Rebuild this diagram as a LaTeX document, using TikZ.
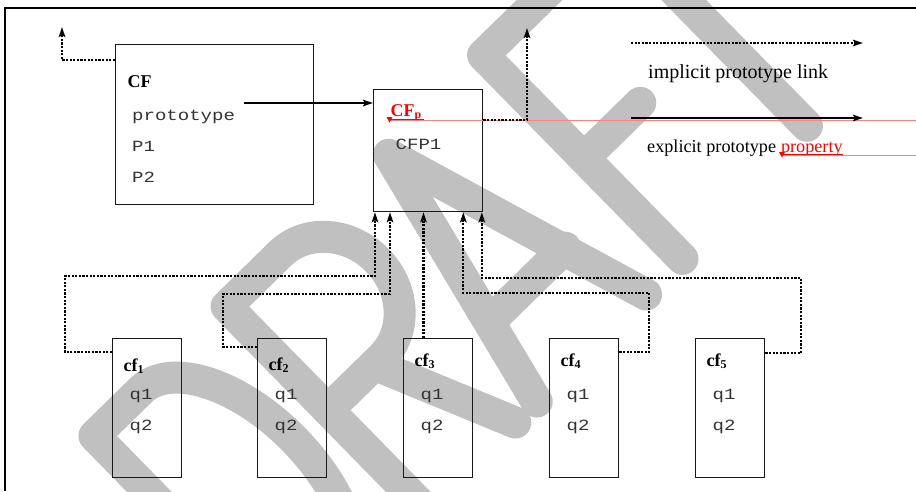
\documentclass[tikz,border=0pt]{standalone}
\usepackage{fontspec}
\setmainfont{Liberation Serif}
\setmonofont{Liberation Mono}[FakeStretch=1.22]
\usetikzlibrary{arrows.meta}
\definecolor{wmgray}{RGB}{192,192,192}
\newcommand{\lblfont}{\fontsize{18}{21}\selectfont\bfseries}
\newcommand{\subfont}{\fontsize{12}{14}\selectfont\bfseries}
\newcommand{\monofont}{\fontsize{15.6}{18}\selectfont\ttfamily}
\begin{document}
\begin{tikzpicture}[x=1pt,y=-1pt,
  box/.style={draw=black!90, line width=1.3pt, inner sep=0pt, anchor=north west},
  mono/.style={font=\monofont, text=black!80, inner sep=0pt, anchor=base west},
  lbl/.style={font=\lblfont, inner sep=0pt, anchor=base west},
  dotline/.style={line width=2.1pt, dash pattern=on 2.2pt off 1.4pt},
  solidline/.style={line width=2pt},
  arrowtip/.style={-{Stealth[length=10pt,width=6.5pt,inset=2pt]}},
  wm/.style={draw=wmgray, line width=32pt, line cap=round, line join=round},
  redmark/.style={red!50, line width=0.7pt}]
\useasboundingbox (0,0) rectangle (916,491);
% watermark
\begin{scope}
  \clip (0,0) rectangle (916,491);
  \begin{scope}[shift={(426pt,-510pt)},rotate=44.4,x=1pt,y=1pt]
    % D
    \draw[wm] (-185,0) -- (-185,285) -- (-120,285) arc[start angle=90,end angle=-90,x radius=75,y radius=142.5] -- cycle;
    % R
    \draw[wm] (0,0) -- (0,285) -- (75,285) arc[start angle=90,end angle=-90,x radius=65,y radius=72.5] -- (0,140);
    \draw[wm] (65,140) -- (125,0);
    % A
    \draw[wm] (155,0) -- (222,280) -- (308,0);
    \draw[wm] (179,90) -- (283,90);
    % F
    \draw[wm] (470,285) -- (359,285) -- (359,0);
    \draw[wm] (359,141) -- (438,141);
    % T
    \draw[wm] (541,8) -- (541,285);
    \draw[wm] (496,285) -- (646,285);
  \end{scope}
\end{scope}
% frame
\draw[line width=2.2pt] (5,491) -- (5,8) -- (916,8);
% CF box
\node[box, minimum width=198pt, minimum height=160pt] (cf) at (115,44) {};
\node[lbl] (cflbl) at (127.5,87) {\lblfont CF};
\node[mono] (proto) at (132,120) {prototype};
\node[mono] (p1) at (132,151) {P1};
\node[mono] (p2) at (132,182) {P2};
% CFp box
\node[box, minimum width=109pt, minimum height=122pt] (cfp) at (373,89) {};
\node[lbl, text=red] (cfplbl) at (390.5,116) {\lblfont CF\raisebox{-2.5pt}{\subfont p}};
\node[mono] (cfp1) at (395.5,149) {CFP1};
% red revision marks
\draw[redmark] (389,120.7) -- (916,120.7);
\draw[red, line width=0.9pt] (388,119) -- (424,119);
\fill[red] (386.5,117) -- (392.5,117) -- (389.5,122.5) -- cycle;
% cf boxes
\foreach \i/\x/\b in {1/112/371,2/257/370,3/403/366,4/549/366,5/695/366} {
  \node[box, minimum width=69pt, minimum height=139pt] (cf\i) at (\x,338) {};
  \node[lbl] (cf\i-lbl) at (\x+11.5,\b) {\lblfont cf\raisebox{-2.5pt}{\subfont\i}};
  \node[mono] (cf\i-q1) at (\x+17.5,399) {q1};
  \node[mono] (cf\i-q2) at (\x+17.5,430) {q2};
}
% CF -> CFp
\coordinate (protoout) at (244,103);
\draw[solidline, arrowtip] (protoout) -- (protoout -| cfp.west);
% implicit links upward
\coordinate (tcf) at (62,27);
\draw[dotline, arrowtip] ([yshift=-16pt]cf.north west) -| (tcf);
\coordinate (tcfp) at (527,28);
\draw[dotline, arrowtip] ([yshift=-31pt]cfp.north east) -| (tcfp);
% cf_i -> CFp
\draw[dotline, arrowtip] ([yshift=-14pt]cf1.north west) -| (65,276) -| ([xshift=2pt]cfp.south west);
\draw[dotline, arrowtip] ([yshift=-9pt]cf2.north west) -| (223,294) -| ([xshift=17pt]cfp.south west);
\coordinate (c3top) at ([xshift=20.5pt]cf3.north west);
\draw[dotline, arrowtip] (c3top) -- (c3top |- cfp.south);
\draw[dotline, arrowtip] ([yshift=-14pt]cf4.north east) -| (649,293) -| ([xshift=-20pt]cfp.south east);
\draw[dotline, arrowtip] ([yshift=-15pt]cf5.north east) -| (801,278) -| ([xshift=-1.5pt]cfp.south east);
% legend
\coordinate (la1) at (631,43);
\coordinate (la2) at (863,43);
\draw[dotline, arrowtip] (la1) -- (la2);
\node[anchor=base west, inner sep=0pt, font=\fontsize{20}{24}\selectfont] (impl) at (648,78) {implicit prototype link};
\coordinate (lb1) at (631,118);
\coordinate (lb2) at (863,118);
\draw[solidline, arrowtip] (lb1) -- (lb2);
\node[anchor=base west, inner sep=0pt, font=\fontsize{18.2}{22}\selectfont] (expl) at (647,152) {explicit prototype};
\node[anchor=base west, inner sep=0pt, font=\fontsize{18.2}{22}\selectfont, text=red] (prop) at ([xshift=4.55pt]expl.base east) {property};
\draw[red, line width=0.8pt] ([yshift=-2.3pt]prop.base west) -- ([yshift=-2.3pt]prop.base east);
\draw[redmark] (782,155.7) -- (916,155.7);
\fill[red] (779,152) -- (785,152) -- (782,157.5) -- cycle;
\end{tikzpicture}
\end{document}
